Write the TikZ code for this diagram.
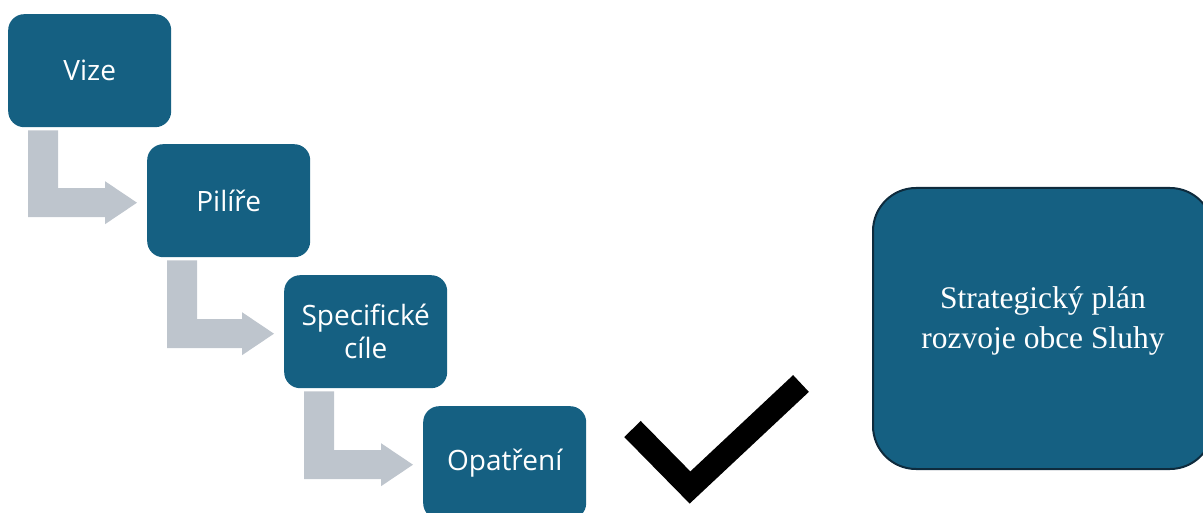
\documentclass[tikz,border=0pt]{standalone}
\usepackage{fontspec}
\setmainfont{Liberation Serif}
\newfontfamily\boxfont{Open Sans}
\usetikzlibrary{calc}
\definecolor{boxblue}{HTML}{156082}
\definecolor{arrowgray}{HTML}{BEC5CD}
\definecolor{edgenavy}{HTML}{0E2B3D}
\tikzset{
  stepbox/.style={rectangle, rounded corners=16pt, fill=boxblue, text=white,
    minimum width=163pt, minimum height=113pt, inner sep=0pt, anchor=north west,
    align=center, font=\boxfont\fontsize{28}{33}\selectfont},
  planbox/.style={rectangle, rounded corners=43pt, fill=boxblue, draw=edgenavy,
    line width=2pt, minimum width=340pt, minimum height=281pt, anchor=north west, inner sep=0pt},
  plantextstyle/.style={text=white, align=center, font=\fontsize{31.5}{40}\selectfont},
  bent/.style={fill=arrowgray},
  checkstyle/.style={draw=black, line width=23pt, line join=miter}
}
\newcommand\mybentarrow[2]{%
  \fill[bent] let \p1=($(#1.south west)+(20,3)$), \p2=($(#2.west)+(-10,2)$) in
    (\x1,\y1) -- ({\x1+30pt},\y1) -- ({\x1+30pt},{\y2+14.5pt}) --
    ({\x2-32pt},{\y2+14.5pt}) -- ({\x2-32pt},{\y2+21.5pt}) -- (\x2,\y2) --
    ({\x2-32pt},{\y2-21.5pt}) -- ({\x2-32pt},{\y2-14.5pt}) --
    (\x1,{\y2-14.5pt}) -- cycle;}
\begin{document}
\begin{tikzpicture}[x=1pt,y=-1pt]
\useasboundingbox (0,0) rectangle (1203,513);
\clip (0,0) rectangle (1203,513);
\node[stepbox] (vize) at (8,14) {Vize};
\node[stepbox] (pilire) at (147,144) {Pilíře};
\node[stepbox] (cile) at (284,275) {Specifické\\cíle};
\node[stepbox] (opatreni) at (423,406) {Opatření};
\mybentarrow{vize}{pilire}
\mybentarrow{pilire}{cile}
\mybentarrow{cile}{opatreni}
\draw[checkstyle] (632.5,429) -- (690,487.5) -- (801,383.5);
\node[planbox] (plan) at (872,187) {};
\node[plantextstyle] (plantext) at ($(plan.center)+(0,-7.5)$) {Strategický plán\\rozvoje obce Sluhy};
\end{tikzpicture}
\end{document}
